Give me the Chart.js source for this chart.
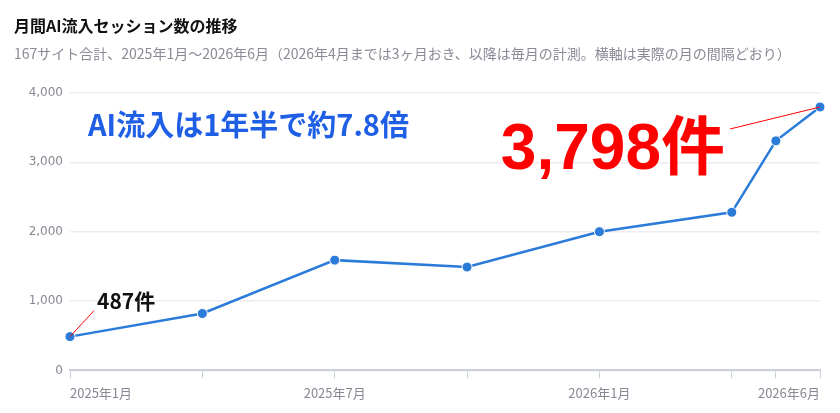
<!DOCTYPE html>
<html>
<head>
<meta charset="utf-8">
<script src="https://cdn.jsdelivr.net/npm/chart.js@4/dist/chart.umd.min.js"></script>
<style>
  html, body { margin: 0; padding: 0; background: #fff; }
  #wrap { width: 840px; height: 413px; }
</style>
</head>
<body>
<div id="wrap"><canvas id="myChart" width="840" height="413"></canvas></div>
<script>
// months since 2025年1月
var monthOffsets = [0, 3, 6, 9, 12, 15, 16, 17];
var sessions = [487, 820, 1590, 1490, 2000, 2280, 3310, 3798];
var tickLabels = { 0: '2025年1月', 6: '2025年7月', 12: '2026年1月', 17: '2026年6月' };
var yTicks = [0, 1000, 2000, 3000, 4000];

var titleText = '月間AI流入セッション数の推移';
var subtitleText = '167サイト合計、2025年1月〜2026年6月（2026年4月までは3ヶ月おき、以降は毎月の計測。横軸は実際の月の間隔どおり）';
var headline = 'AI流入は1年半で約7.8倍';
var firstLabel = '487件';
var lastLabel = '3,798件';

var jp = '"Noto Sans CJK JP", "Noto Sans", sans-serif';

var points = monthOffsets.map(function (m, i) { return { x: m, y: sessions[i] }; });

// annotations drawn on top of the chart
var notes = {
  id: 'notes',
  afterDatasetsDraw: function (chart) {
    var ctx = chart.ctx;
    var xs = chart.scales.x, ys = chart.scales.y;
    var n = sessions.length - 1;
    var x0 = xs.getPixelForValue(monthOffsets[0]), y0 = ys.getPixelForValue(sessions[0]);
    var xn = xs.getPixelForValue(monthOffsets[n]), yn = ys.getPixelForValue(sessions[n]);
    ctx.save();

    // headline
    ctx.fillStyle = '#1f5fe6';
    ctx.font = 'bold 29px ' + jp;
    ctx.textBaseline = 'middle';
    ctx.textAlign = 'left';
    ctx.fillText(headline, 88, 125);

    // first value
    ctx.strokeStyle = '#ff0000';
    ctx.lineWidth = 1;
    ctx.beginPath();
    ctx.moveTo(x0, y0);
    ctx.lineTo(x0 + 24, y0 - 26);
    ctx.stroke();
    ctx.fillStyle = '#111';
    ctx.font = 'bold 21px ' + jp;
    ctx.fillText(firstLabel, x0 + 27, y0 - 36);

    // last value
    ctx.beginPath();
    ctx.moveTo(xn, yn);
    ctx.lineTo(xn - 90, yn + 22);
    ctx.stroke();
    ctx.fillStyle = '#ff0000';
    ctx.font = 'bold 64px "Liberation Sans", Arial, ' + jp;
    ctx.textAlign = 'right';
    ctx.fillText(lastLabel, xn - 95, yn + 44);

    ctx.restore();
  }
};

var myChart = new Chart('myChart', {
  type: 'line',
  data: {
    datasets: [{
      data: points,
      borderColor: '#2b7bd9',
      backgroundColor: '#2b7bd9',
      borderWidth: 2.5,
      pointRadius: 5,
      pointBorderColor: '#ffffff',
      pointBorderWidth: 1,
      tension: 0,
      clip: false
    }]
  },
  options: {
    responsive: false,
    animation: false,
    layout: { padding: { left: 14, right: 20, top: 4, bottom: 5 } },
    plugins: {
      legend: { display: false },
      tooltip: { enabled: false },
      title: {
        display: true,
        text: titleText,
        align: 'start',
        color: '#111',
        font: { family: jp, size: 16, weight: 'bold' },
        padding: { top: 12, bottom: 10 }
      },
      subtitle: {
        display: true,
        text: subtitleText,
        align: 'start',
        color: '#8a8a96',
        font: { family: jp, size: 14 },
        padding: { bottom: 31 }
      }
    },
    scales: {
      x: {
        type: 'linear',
        min: 0,
        max: 17,
        afterBuildTicks: function (scale) {
          scale.ticks = monthOffsets.map(function (m) { return { value: m }; });
        },
        ticks: {
          autoSkip: false,
          maxRotation: 0,
          align: 'inner',
          color: '#888894',
          font: { family: jp, size: 13 },
          padding: 7,
          callback: function (v) { return tickLabels[v] || ''; }
        },
        grid: { drawOnChartArea: false, drawTicks: true, tickLength: 8, color: '#ccd0dc' },
        border: { color: '#ccd0dc', width: 2 }
      },
      y: {
        min: 0,
        max: 4000,
        afterBuildTicks: function (scale) {
          scale.ticks = yTicks.map(function (v) { return { value: v }; });
        },
        afterFit: function (scale) { scale.width = 56; },
        ticks: {
          color: '#888894',
          font: { family: '"DejaVu Sans", sans-serif', size: 12 },
          padding: 7,
          callback: function (v) { return v.toLocaleString('en-US'); }
        },
        grid: { drawTicks: false, color: '#ececf2', lineWidth: 1.5 },
        border: { display: false }
      }
    }
  },
  plugins: [notes]
});
</script>
</body>
</html>
